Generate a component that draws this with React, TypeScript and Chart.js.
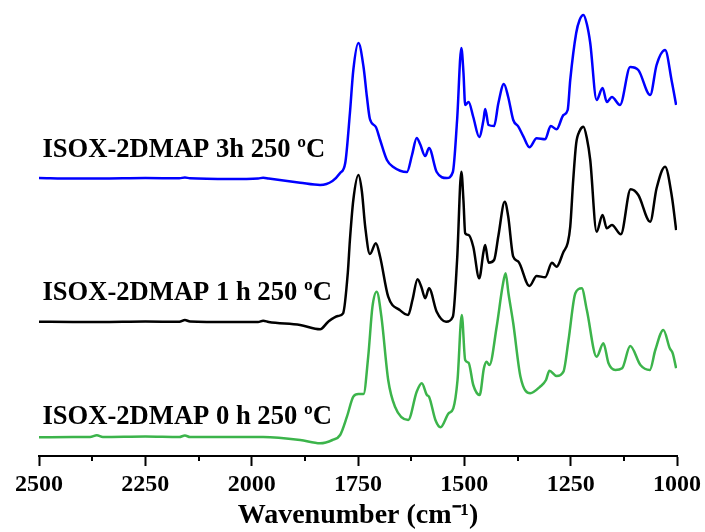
import React, { useEffect, useRef } from "react";
import { Chart, registerables } from "chart.js";

Chart.register(...registerables);

// ---- Data (intensity in arbitrary offset units) ----
const wavenumbers3h = [2500, 2420, 2357, 2250, 2170, 2157, 2145, 2050, 1985, 1973, 1960, 1886, 1839, 1810, 1792, 1780, 1769, 1761, 1749, 1737, 1729, 1722, 1708, 1698, 1682, 1667, 1635, 1623, 1612, 1604, 1592, 1583, 1565, 1541, 1527, 1517, 1507, 1502, 1498, 1490, 1479, 1465, 1455, 1451, 1443, 1430, 1420, 1407, 1397, 1385, 1373, 1361, 1347, 1330, 1310, 1297, 1283, 1267, 1257, 1251, 1237, 1229, 1220, 1212, 1204, 1189, 1175, 1165, 1153, 1134, 1110, 1091, 1063, 1048, 1028, 1012, 1002];
const intensity3h = [278, 277.5, 277.5, 278, 277.7, 278.5, 277.7, 277, 277.5, 278.3, 277.5, 273.3, 271, 275, 283, 293, 343, 386, 413, 389, 359, 337, 329, 316, 296, 289, 284, 301, 318, 312, 300, 308, 284, 278, 284, 336, 408, 383, 351, 354, 339, 319, 336, 347, 331, 330, 352.7, 372, 359.3, 336, 329.3, 319.3, 308.7, 317.7, 316.7, 330, 326.7, 341, 346, 376, 423, 436, 441, 432, 413, 356, 368, 354, 359, 351, 389, 386, 361, 391, 406, 374, 351];

const wavenumbers1h = [2500, 2420, 2357, 2250, 2170, 2157, 2145, 2050, 1985, 1973, 1960, 1886, 1839, 1820, 1797, 1785, 1774, 1769, 1761, 1749, 1741, 1733, 1722, 1708, 1698, 1679, 1652, 1632, 1622, 1610, 1601, 1592, 1583, 1565, 1543, 1527, 1517, 1507, 1502, 1498, 1490, 1479, 1465, 1455, 1451, 1443, 1430, 1420, 1405, 1397, 1385, 1373, 1347, 1330, 1310, 1294, 1283, 1267, 1257, 1251, 1244, 1237, 1229, 1220, 1212, 1204, 1189, 1175, 1165, 1153, 1132, 1109, 1091, 1063, 1048, 1028, 1012, 1002];
const intensity1h = [134.3, 134, 134, 134.5, 134.2, 136, 134.5, 134, 134, 135.3, 134, 131, 126.7, 134.3, 140, 142.7, 183, 216, 256, 281, 265, 229, 202, 212.7, 199.3, 159.3, 146, 141, 156, 176.7, 169, 157.7, 167.7, 144.3, 134.3, 139.3, 196, 284.3, 255, 222.7, 221, 209.3, 177.7, 204, 211, 193.3, 196, 220, 254.3, 240, 199.3, 194.3, 170, 180, 178.7, 193.3, 189.3, 204, 213, 229.3, 276, 312.7, 325, 329.3, 318, 296, 224.3, 241, 227.7, 231, 221.7, 266.7, 261, 234.3, 267.7, 289.3, 259.3, 226];

const wavenumbers0h = [2500, 2420, 2380, 2364, 2350, 2250, 2170, 2157, 2145, 2050, 1973, 1886, 1839, 1810, 1792, 1776, 1761, 1749, 1737, 1726, 1716, 1706, 1695, 1679, 1663, 1632, 1612, 1600, 1588, 1583, 1568, 1556, 1537, 1526, 1516, 1506, 1498, 1490, 1479, 1464, 1454, 1448, 1441, 1424, 1410, 1403, 1396, 1385, 1368, 1345, 1322, 1308, 1300, 1283, 1267, 1255, 1239, 1224, 1212, 1189, 1173, 1161, 1145, 1129, 1110, 1086, 1064, 1051, 1032, 1017, 1010, 1002];
const intensity0h = [18.7, 19, 19, 20.8, 19, 19.5, 19, 20.5, 19, 19, 19, 16, 12.7, 16, 21, 39.3, 59.3, 62, 62, 99.3, 149.3, 164.3, 139.3, 76, 49.3, 36, 64.3, 72.7, 61, 59.3, 36, 28.7, 42.7, 47.7, 76, 141, 96, 93.3, 71, 61, 87.7, 94.3, 91, 129.3, 170, 182.7, 162, 132.7, 79.3, 62.7, 69.3, 76, 85.3, 80, 84.3, 116, 162.7, 167.7, 146, 99.3, 112.7, 92.7, 86, 87.7, 110, 91, 86, 106, 126, 107.7, 102.7, 87.7];

const seriesNames = ["ISOX-2DMAP 3h 250 ºC", "ISOX-2DMAP 1 h 250 ºC", "ISOX-2DMAP 0 h 250 ºC"];
const xTicks = [2500, 2250, 2000, 1750, 1500, 1250, 1000];
const xMinorTicks = [2375, 2125, 1875, 1625, 1375, 1125];
const xTitle = "Wavenumber (cm⁻¹)";

// ---- Styling / placement ----
const seriesColors = ["#0000ff", "#000000", "#3cb44b"];
const labelAnchorWn = 2492;
const labelAnchorY = [299, 156, 32];
const SERIF = "'Liberation Serif', 'Times New Roman', serif";

const toPoints = (xs: number[], ys: number[]) => xs.map((x, i) => ({ x, y: ys[i] }));

export default function App() {
  const ref = useRef<HTMLCanvasElement | null>(null);

  useEffect(() => {
    if (!ref.current) return;

    const extras = {
      id: "extras",
      afterDraw(chart: any) {
        const ctx = chart.ctx;
        const xs = chart.scales.x;
        const ys = chart.scales.y;
        const bottom = chart.chartArea.bottom;
        ctx.save();
        ctx.strokeStyle = "#000";
        ctx.lineWidth = 2;
        xMinorTicks.forEach((v) => {
          const px = Math.round(xs.getPixelForValue(v));
          ctx.beginPath();
          ctx.moveTo(px, bottom);
          ctx.lineTo(px, bottom + 5);
          ctx.stroke();
        });
        ctx.fillStyle = "#000";
        ctx.font = `bold 26.6px ${SERIF}`;
        ctx.textAlign = "left";
        ctx.textBaseline = "alphabetic";
        seriesNames.forEach((name, i) => {
          ctx.fillText(name, xs.getPixelForValue(labelAnchorWn), ys.getPixelForValue(labelAnchorY[i]));
        });
        ctx.restore();
      },
    };

    const series = [
      toPoints(wavenumbers3h, intensity3h),
      toPoints(wavenumbers1h, intensity1h),
      toPoints(wavenumbers0h, intensity0h),
    ];

    const chart = new Chart(ref.current, {
      type: "line",
      data: {
        datasets: series.map((d, i) => ({
          label: seriesNames[i],
          data: d,
          borderColor: seriesColors[i],
          borderWidth: 2.5,
          pointRadius: 0,
          fill: false,
          cubicInterpolationMode: "monotone" as const,
        })),
      },
      options: {
        responsive: false,
        animation: false,
        layout: { padding: { left: 39, right: 28, top: 0, bottom: 0 } },
        plugins: { legend: { display: false }, tooltip: { enabled: false } },
        scales: {
          x: {
            type: "linear",
            min: 1000,
            max: 2500,
            reverse: true,
            afterBuildTicks: (scale: any) => {
              scale.ticks = xTicks.map((v) => ({ value: v }));
            },
            afterFit: (scale: any) => {
              scale.height = 76;
            },
            border: { display: true, color: "#000", width: 2 },
            grid: { drawOnChartArea: false, drawTicks: true, tickLength: 10, tickWidth: 2, tickColor: "#000" },
            ticks: {
              color: "#000",
              padding: 4,
              maxRotation: 0,
              autoSkip: false,
              font: { family: SERIF, size: 24, weight: "bold", lineHeight: 1.2 },
              callback: (v: any) => String(v),
            },
            title: {
              display: true,
              text: xTitle,
              color: "#000",
              font: { family: SERIF, size: 28, weight: "bold", lineHeight: 1 },
              padding: { top: 0, bottom: 2 },
            },
          },
          y: { type: "linear", display: false, min: 0, max: 456 },
        },
      },
      plugins: [extras],
    } as any);

    return () => chart.destroy();
  }, []);

  return (
    <div style={{ position: "absolute", left: 0, top: 0, width: 705, height: 532, background: "#fff" }}>
      <canvas ref={ref} width={705} height={532} style={{ display: "block" }} />
    </div>
  );
}
